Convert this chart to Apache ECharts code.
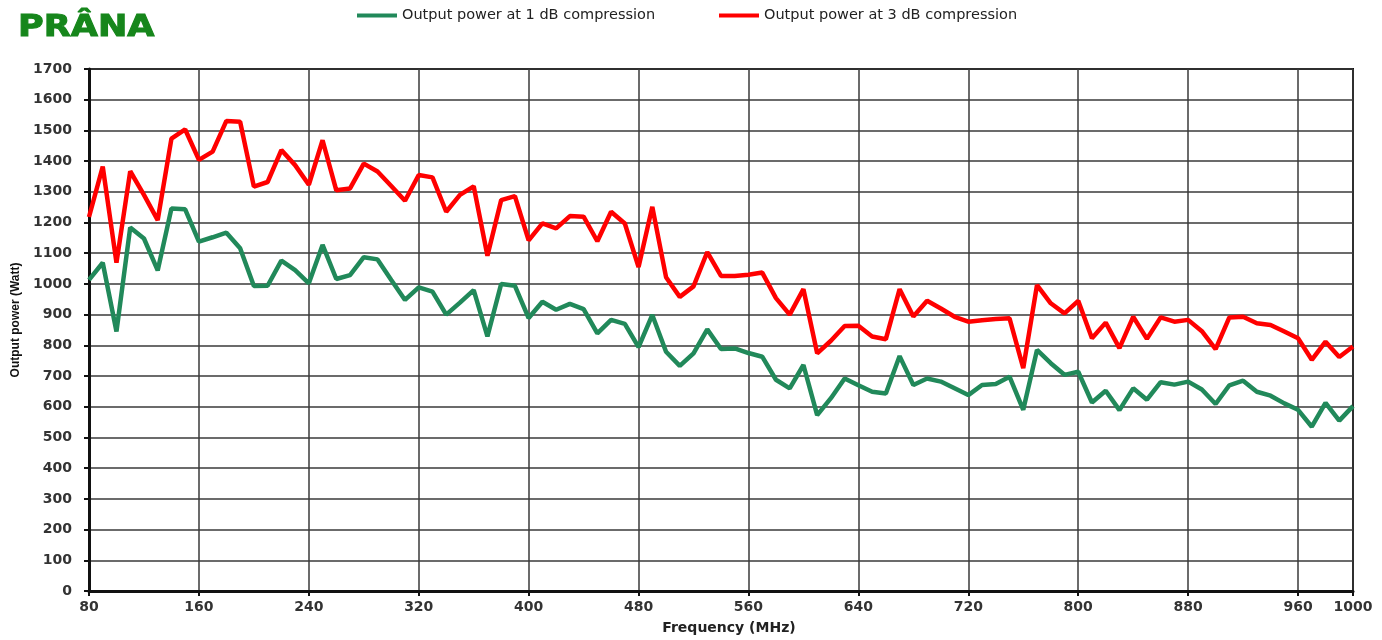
<!DOCTYPE html>
<html>
<head>
<meta charset="utf-8">
<title>Output power vs frequency</title>
<script src="https://cdn.jsdelivr.net/npm/echarts@6/dist/echarts.min.js"></script>
<style>
  html, body { margin: 0; padding: 0; background: #fff; }
  #chart { width: 1382px; height: 640px; }
</style>
</head>
<body>
<div id="chart"></div>
<script>
// frequency in MHz
const freqs = [
  80, 90, 100, 110, 120, 130, 140, 150, 160, 170,
  180, 190, 200, 210, 220, 230, 240, 250, 260, 270,
  280, 290, 300, 310, 320, 330, 340, 350, 360, 370,
  380, 390, 400, 410, 420, 430, 440, 450, 460, 470,
  480, 490, 500, 510, 520, 530, 540, 550, 560, 570,
  580, 590, 600, 610, 620, 630, 640, 650, 660, 670,
  680, 690, 700, 710, 720, 730, 740, 750, 760, 770,
  780, 790, 800, 810, 820, 830, 840, 850, 860, 870,
  880, 890, 900, 910, 920, 930, 940, 950, 960, 970,
  980, 990, 1000
]

// output power (Watt) at 1 dB compression
const power1dB = [
  1013, 1069, 845, 1184, 1148, 1044, 1246, 1243, 1138, 1152,
  1167, 1116, 993, 994, 1076, 1045, 1002, 1127, 1016, 1029,
  1087, 1080, 1013, 948, 989, 975, 900, 939, 980, 829,
  1000, 994, 889, 942, 916, 935, 918, 839, 883, 870,
  794, 899, 779, 733, 774, 852, 788, 790, 775, 763,
  688, 660, 736, 573, 628, 692, 670, 649, 643, 765,
  671, 692, 682, 660, 638, 671, 674, 698, 590, 785,
  742, 704, 714, 614, 652, 589, 660, 623, 680, 672,
  682, 656, 609, 670, 685, 649, 636, 611, 590, 535,
  613, 555, 602
]

// output power (Watt) at 3 dB compression
const power3dB = [
  1218, 1382, 1069, 1367, 1290, 1208, 1473, 1503, 1404, 1431,
  1531, 1528, 1317, 1332, 1436, 1387, 1323, 1468, 1305, 1311,
  1392, 1366, 1319, 1271, 1355, 1347, 1235, 1290, 1318, 1092,
  1273, 1286, 1142, 1197, 1181, 1221, 1219, 1139, 1235, 1197,
  1055, 1251, 1022, 958, 992, 1104, 1026, 1026, 1030, 1037,
  954, 900, 983, 774, 815, 863, 864, 829, 820, 983,
  894, 945, 920, 893, 877, 882, 886, 888, 726, 996,
  937, 904, 945, 823, 874, 791, 893, 821, 891, 877,
  883, 846, 788, 891, 893, 872, 866, 845, 823, 753,
  812, 762, 796
]

const seriesNames = ['Output power at 1 dB compression', 'Output power at 3 dB compression']

const chart = echarts.init(document.getElementById('chart'))

const pair = (vals) => freqs.map((f, i) => [f, vals[i]])

const labelStyle = {
  color: '#333',
  fontFamily: 'DejaVu Sans',
  fontWeight: 'bold',
  fontSize: 14,
  formatter: (v) => String(v)
}

const legendText = {
  color: '#222',
  fontFamily: 'DejaVu Sans',
  fontSize: 14.5
}

const options = {
  animation: false,
  backgroundColor: '#fff',
  graphic: [
    {
      type: 'text',
      x: 18,
      y: 13,
      scaleX: 1.17,
      style: {
        text: 'PRÂNA',
        font: 'bold 30px "DejaVu Sans"',
        fill: '#16861b',
        stroke: '#16861b',
        lineWidth: 1
      }
    }
  ],
  legend: [
    {
      left: 352,
      top: 3,
      itemWidth: 40,
      itemHeight: 4,
      itemGap: 5,
      icon: 'rect',
      data: [seriesNames[0]],
      textStyle: legendText
    },
    {
      left: 714,
      top: 3,
      itemWidth: 40,
      itemHeight: 4,
      itemGap: 5,
      icon: 'rect',
      data: [seriesNames[1]],
      textStyle: legendText
    }
  ],
  grid: {
    left: 89,
    right: 29,
    top: 69,
    bottom: 49,
    show: true,
    borderColor: '#111',
    borderWidth: 2
  },
  xAxis: {
    type: 'value',
    min: 80,
    max: 1000,
    interval: 80,
    name: 'Frequency (MHz)',
    nameLocation: 'middle',
    nameGap: 30,
    nameTextStyle: {
      color: '#222',
      fontFamily: 'DejaVu Sans',
      fontWeight: 'bold',
      fontSize: 14,
      padding: [0, 0, 0, 16]
    },
    axisLine: {
      show: true,
      onZero: false,
      lineStyle: { color: '#111', width: 3 }
    },
    axisTick: {
      show: true,
      length: 5,
      lineStyle: { color: '#111', width: 2 }
    },
    axisLabel: Object.assign({ margin: 9 }, labelStyle),
    splitLine: {
      show: true,
      lineStyle: { color: '#3a3a3a', width: 1.5 }
    }
  },
  yAxis: {
    type: 'value',
    min: 0,
    max: 1700,
    interval: 100,
    name: 'Output power (Watt)',
    nameLocation: 'middle',
    nameGap: 66,
    nameTextStyle: {
      color: '#111',
      fontFamily: 'Liberation Sans',
      fontWeight: 'bold',
      fontSize: 12,
      padding: [0, 0, 0, 20]
    },
    axisLine: {
      show: true,
      lineStyle: { color: '#111', width: 3 }
    },
    axisTick: {
      show: true,
      length: 5,
      lineStyle: { color: '#111', width: 2 }
    },
    axisLabel: Object.assign({ margin: 17 }, labelStyle),
    splitLine: {
      show: true,
      lineStyle: { color: '#3a3a3a', width: 1.5 }
    }
  },
  series: [
    {
      name: seriesNames[0],
      type: 'line',
      symbol: 'none',
      color: '#21895a',
      lineStyle: { color: '#21895a', width: 4.5 },
      data: pair(power1dB),
      z: 3
    },
    {
      name: seriesNames[1],
      type: 'line',
      symbol: 'none',
      color: '#ff0000',
      lineStyle: { color: '#ff0000', width: 4.5 },
      data: pair(power3dB),
      z: 4
    }
  ]
}

chart.setOption(options)
</script>
</body>
</html>
